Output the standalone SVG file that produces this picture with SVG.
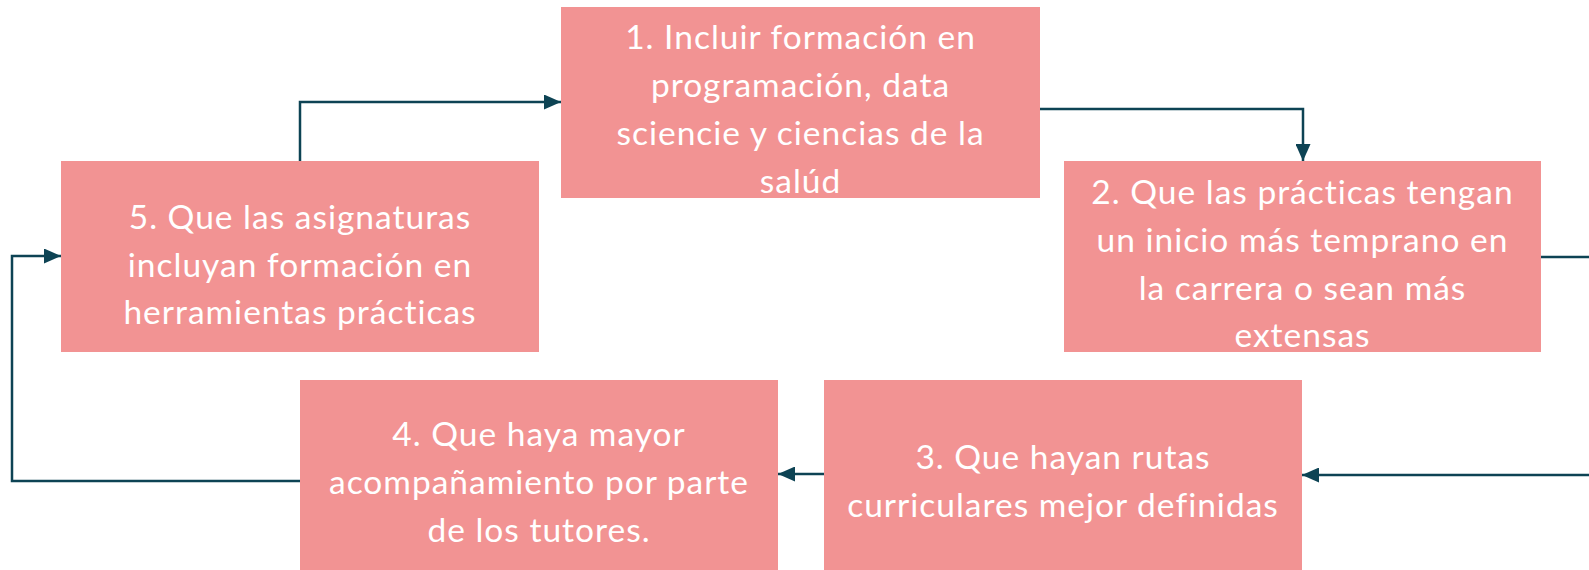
<svg xmlns="http://www.w3.org/2000/svg" width="1589" height="570" viewBox="0 0 1589 570">
<style>
.box{fill:#f29393;}
.t{font-family:Lato,"Noto Sans","Liberation Sans",sans-serif;font-size:33.5px;fill:#ffffff;text-anchor:middle;letter-spacing:1px;}
.c{fill:none;stroke:#0d4354;stroke-width:2.5;marker-end:url(#ah);}
</style>
<defs>
<marker id="ah" markerUnits="userSpaceOnUse" markerWidth="17" markerHeight="15" refX="17" refY="7.5" orient="auto">
<path d="M0,0 L17,7.5 L0,15 Z" fill="#0d4354"/>
</marker>
</defs>
<rect width="1589" height="570" fill="#ffffff"/>
<g id="connectors">
<path class="c" d="M300,161 V102 H561"/>
<path class="c" d="M1040,109 H1303 V161"/>
<path class="c" d="M1541,257 H1600 V475 H1302"/>
<path class="c" d="M824,474 H778"/>
<path class="c" d="M300,481 H12 V256 H61"/>
</g>
<g id="node1">
<rect class="box" x="561" y="7" width="479" height="191"/>
<text class="t" x="800.5" y="49">1. Incluir formación en</text>
<text class="t" x="800.5" y="97">programación, data</text>
<text class="t" x="800.5" y="145">sciencie y ciencias de la</text>
<text class="t" x="800.5" y="193">salúd</text>
</g>
<g id="node2">
<rect class="box" x="1064" y="161" width="477" height="191"/>
<text class="t" x="1302.5" y="204">2. Que las prácticas tengan</text>
<text class="t" x="1302.5" y="252">un inicio más temprano en</text>
<text class="t" x="1302.5" y="300">la carrera o sean más</text>
<text class="t" x="1302.5" y="347">extensas</text>
</g>
<g id="node3">
<rect class="box" x="824" y="380" width="478" height="190"/>
<text class="t" x="1063" y="469">3. Que hayan rutas</text>
<text class="t" x="1063" y="517">curriculares mejor definidas</text>
</g>
<g id="node4">
<rect class="box" x="300" y="380" width="478" height="190"/>
<text class="t" x="539" y="446">4. Que haya mayor</text>
<text class="t" x="539" y="494">acompañamiento por parte</text>
<text class="t" x="539" y="542">de los tutores.</text>
</g>
<g id="node5">
<rect class="box" x="61" y="161" width="478" height="191"/>
<text class="t" x="300" y="229">5. Que las asignaturas</text>
<text class="t" x="300" y="277">incluyan formación en</text>
<text class="t" x="300" y="324">herramientas prácticas</text>
</g>
</svg>
